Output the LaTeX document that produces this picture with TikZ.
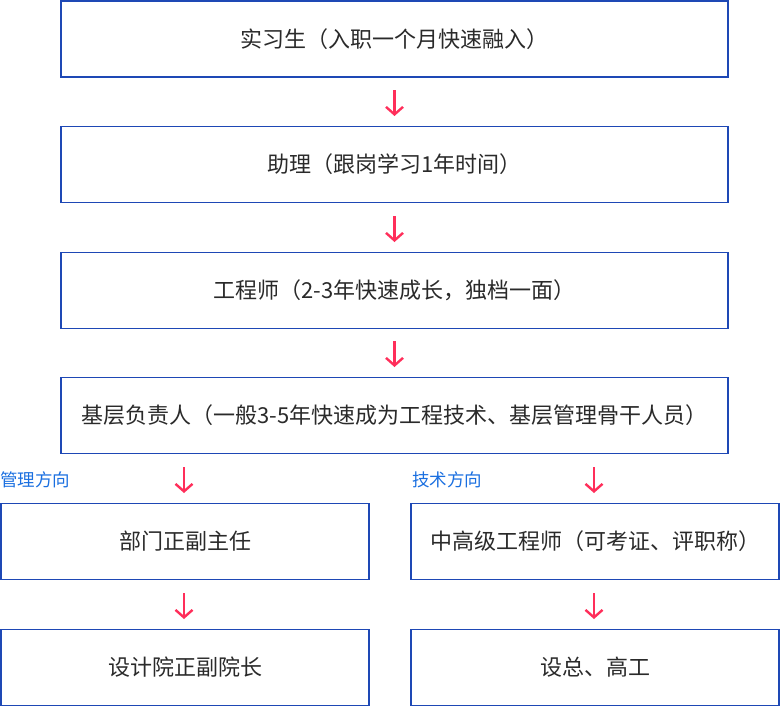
\documentclass[tikz,border=0pt]{standalone}
\usepackage{fontspec}
\setmainfont{Noto Sans CJK SC}
\usetikzlibrary{arrows.meta}
\definecolor{boxblue}{HTML}{1E48B5}
\definecolor{arrowred}{HTML}{FF2E5A}
\definecolor{labelblue}{HTML}{1A6FE0}
\definecolor{textgray}{HTML}{2A2A2A}
\begin{document}
\begin{tikzpicture}[x=1pt,y=-1pt,
  stagebox/.style={draw=boxblue,line width=1.2pt,fill=white,inner sep=0pt,font=\fontsize{22}{26}\selectfont,text=textgray},
  flowarrow/.style={draw=arrowred,line width=2.4pt,-{Straight Barb[length=7.5pt,width=17pt,line width=2.4pt]}},
  dirlabel/.style={text=labelblue,font=\fontsize{17.5}{21}\selectfont,anchor=west,inner sep=0pt}]
\useasboundingbox (0,0) rectangle (780,707);
\node[stagebox,minimum width=667pt,minimum height=76pt] (s1) at (394.5,39) {实习生（入职一个月快速融入）};
\node[stagebox,minimum width=667pt,minimum height=76pt] (s2) at (394.5,164.5) {助理（跟岗学习1年时间）};
\node[stagebox,minimum width=667pt,minimum height=76pt] (s3) at (394.5,290.5) {工程师（2-3年快速成长，独档一面）};
\node[stagebox,minimum width=667pt,minimum height=76pt] (s4) at (394.5,415.5) {基层负责人（一般3-5年快速成为工程技术、基层管理骨干人员）};
\node[stagebox,minimum width=368pt,minimum height=76pt] (l1) at (185,541.5) {部门正副主任};
\node[stagebox,minimum width=368pt,minimum height=76pt] (l2) at (185,667.5) {设计院正副院长};
\node[stagebox,minimum width=368pt,minimum height=76pt] (r1) at (595,541.5) {中高级工程师（可考证、评职称）};
\node[stagebox,minimum width=368pt,minimum height=76pt] (r2) at (595,667.5) {设总、高工};
\node[dirlabel] (dl) at (0,480) {管理方向};
\node[dirlabel] (dr) at (412,480) {技术方向};
\coordinate (a1s) at (394.5,90); \coordinate (a1e) at (394.5,116);
\coordinate (a2s) at (394.5,216); \coordinate (a2e) at (394.5,242);
\coordinate (a3s) at (394.5,341); \coordinate (a3e) at (394.5,367);
\coordinate (a4s) at (184,467); \coordinate (a4e) at (184,493);
\coordinate (a5s) at (184,593); \coordinate (a5e) at (184,619);
\coordinate (a6s) at (594,467); \coordinate (a6e) at (594,493);
\coordinate (a7s) at (594,593); \coordinate (a7e) at (594,619);
\draw[flowarrow] (a1s) -- (a1e);
\draw[flowarrow] (a2s) -- (a2e);
\draw[flowarrow] (a3s) -- (a3e);
\draw[flowarrow] (a4s) -- (a4e);
\draw[flowarrow] (a5s) -- (a5e);
\draw[flowarrow] (a6s) -- (a6e);
\draw[flowarrow] (a7s) -- (a7e);
\end{tikzpicture}
\end{document}
